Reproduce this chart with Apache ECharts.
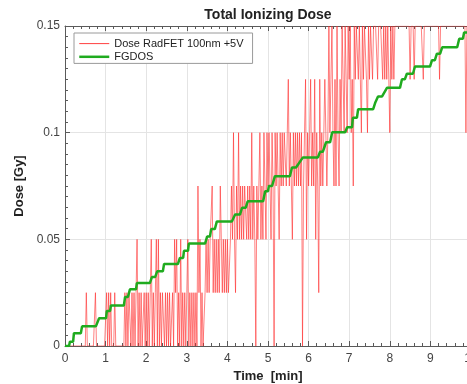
<!DOCTYPE html>
<html>
<head>
<meta charset="utf-8">
<script src="https://cdn.jsdelivr.net/npm/echarts@6/dist/echarts.min.js"></script>
<style>
  html, body { margin: 0; padding: 0; background: #fff; }
  #chart { width: 467px; height: 384px; }
</style>
</head>
<body>
<div id="chart"></div>
<script>
// RadFET readout, one sample every 0.025 min starting at t = 0 [Gy]
const radfetStep = 0.025;
const radfetDose = [
  0,0,0,0,0,0,0,0,0,0,
  0,0,0,0,0,0,0,0,0,0,
  0,.025,0,0,0,0,0,0,0,0,
  .025,0,0,0,0,0,0,0,0,0,
  0,.025,0,.025,0,.025,0,0,0,.025,
  0,0,0,0,0,0,0,0,0,.025,
  0,.025,0,.025,.025,0,.025,0,.025,0,
  .025,.05,0,.025,0,.025,0,0,.025,0,
  .025,0,.025,0,.025,.05,0,.025,0,.025,
  .05,0,.05,0,.025,0,.025,.025,0,.025,
  0,.025,0,.025,0,0,.025,0,.05,.025,
  .05,0,.025,0,.05,0,.025,0,.025,0,
  .025,.05,0,.025,0,.025,0,.025,0,.025,
  0,.075,.025,.05,0,.025,0,0,.025,.05,
  .025,.05,.025,.05,.05,.075,.025,.05,.025,.05,
  .025,.05,.025,.075,.05,.025,.05,.025,.05,.025,
  .05,.025,.025,.05,.075,.05,.1,.05,.025,.075,
  .05,.1,.05,.075,.05,.075,.05,.075,.075,.05,
  .075,.05,.075,.05,.1,.05,.075,.05,0,.075,
  .05,.075,.1,.05,.075,.05,.1,.075,.05,.1,
  .075,.1,.075,.05,.1,.075,0,.1,.075,.1,
  .075,.05,.1,.075,.1,.075,.1,.1,.075,.1,
  .125,.075,.1,.075,.05,.1,.075,.1,.075,.1,
  .075,.1,.075,.1,0,.075,.1,.125,.05,.1,
  .075,.1,.125,.075,.1,.075,.125,.05,.1,.075,
  .025,.125,.075,.1,.075,.1,.125,.1,.075,.1,
  .15,.1,.125,.15,.1,.075,.125,.075,.15,.1,
  .075,.125,.1,.15,.125,.1,.15,.125,.1,.15,
  .125,.15,.1,.125,.075,.15,.125,.15,.15,.125,
  .15,.125,.1,.15,.125,.15,.15,.125,.1,.15,
  .125,.15,.15,.125,.15,.15,.15,.15,.125,.15,
  .15,.15,.15,.125,.15,.125,.15,.125,.15,.125,
  .1,.15,.125,.15,.125,.15,.15,.15,.15,.15,
  .15,.15,.15,.15,.15,.15,.15,.15,.15,.15,
  .125,.15,.15,.15,.125,.15,.15,.15,.15,.15,
  .15,.15,.15,.125,.15,.15,.15,.15,.15,.15,
  .15,.15,.15,.15,.15,.15,.15,.15,.15,.125,
  .15,.15,.15,.15,.15,.15,.15,.15,.15,.15,
  .15,.15,.15,.15,.15,.15,.15,.15,.15,.15,
  .15,.15,.15,.15,.15,.1,.15,.15,.15,.15,
  .15
];

// FGDOS staircase: start and end of each plateau [min] and its dose [Gy]
const fgdosTime = [
  0, 0.1, 0.12, 0.2, 0.22, 0.39, 0.42, 0.76, 0.84, 1.01,
  1.03, 1.11, 1.13, 1.45, 1.48, 1.55, 1.6, 1.75, 1.77, 2.09,
  2.14, 2.22, 2.27, 2.41, 2.44, 2.78, 2.83, 2.91, 2.93, 3.03,
  3.05, 3.45, 3.5, 3.57, 3.6, 3.69, 3.74, 4.11, 4.19, 4.31,
  4.36, 4.45, 4.5, 4.88, 4.93, 5.0, 5.02, 5.1, 5.17, 5.54,
  5.59, 5.69, 5.86, 6.23, 6.28, 6.35, 6.43, 6.53, 6.58, 6.9,
  6.95, 7.07, 7.09, 7.19, 7.22, 7.59, 7.64, 7.68, 7.71, 7.81,
  7.93, 8.25, 8.3, 8.37, 8.42, 8.57, 8.62, 8.99, 9.04, 9.11,
  9.16, 9.24, 9.29, 9.66, 9.71, 9.8, 9.83, 10
];
const fgdosDose = [
  0, 0, 0.002, 0.002, 0.006, 0.006, 0.0092, 0.0092, 0.013, 0.013,
  0.0164, 0.0164, 0.019, 0.019, 0.023, 0.023, 0.0266, 0.0266, 0.0295, 0.0295,
  0.0323, 0.0323, 0.035, 0.035, 0.0384, 0.0384, 0.0413, 0.0413, 0.0446, 0.0446,
  0.048, 0.048, 0.0513, 0.0513, 0.0548, 0.0548, 0.0584, 0.0584, 0.0616, 0.0616,
  0.0648, 0.0648, 0.0678, 0.0678, 0.0725, 0.0725, 0.075, 0.075, 0.0796, 0.0796,
  0.0837, 0.0837, 0.0884, 0.0884, 0.091, 0.091, 0.0955, 0.0955, 0.1002, 0.1002,
  0.1025, 0.1025, 0.107, 0.107, 0.111, 0.111, 0.114, 0.114, 0.117, 0.117,
  0.121, 0.121, 0.125, 0.125, 0.1276, 0.1276, 0.131, 0.131, 0.134, 0.134,
  0.137, 0.137, 0.140, 0.140, 0.144, 0.144, 0.147, 0.147
];

const seriesNames = ['Dose RadFET 100nm +5V', 'FGDOS'];
const seriesColors = ['#ff2a2a', '#1fab1f'];
const seriesWidths = [0.6, 2.5];

const radfetData = radfetDose.map((v, i) => [+(i * radfetStep).toFixed(3), v]);
const fgdosData = fgdosTime.map((t, i) => [t, fgdosDose[i]]);

const axisColor = '#5a5a5a';
const labelColor = '#444';
const font = '"Liberation Sans", Arial, Helvetica, sans-serif';

const chart = echarts.init(document.getElementById('chart'), null, { renderer: 'canvas' });

const tickStyle = { color: axisColor, width: 1 };

chart.setOption({
  animation: false,
  backgroundColor: '#fff',
  textStyle: { fontFamily: font },
  title: {
    text: 'Total Ionizing Dose',
    left: 268,
    top: 8,
    textAlign: 'center',
    padding: 0,
    textStyle: { fontSize: 14, fontWeight: 'bold', color: '#222', fontFamily: font }
  },
  legend: {
    left: 74,
    top: 33,
    orient: 'vertical',
    itemWidth: 30,
    itemHeight: 14,
    itemGap: 2,
    padding: [5, 9, 1, 4],
    borderColor: '#9a9a9a',
    borderWidth: 1,
    backgroundColor: '#fff',
    // line-only keys: the marker symbol is hidden, the series stroke is kept
    itemStyle: { opacity: 0 },
    textStyle: { fontSize: 11, color: '#222', fontFamily: font },
    data: [
      { name: seriesNames[0], lineStyle: { width: 0.9, color: seriesColors[0] } },
      { name: seriesNames[1], lineStyle: { width: seriesWidths[1], color: seriesColors[1] } }
    ]
  },
  grid: { left: 65, right: -4, top: 26, bottom: 38, containLabel: false, outerBoundsMode: 'none' },
  xAxis: [
    {
      type: 'value', min: 0, max: 10, interval: 1, position: 'bottom',
      axisLine: { show: true, onZero: false, lineStyle: tickStyle },
      axisTick: { show: true, inside: true, length: 5, lineStyle: tickStyle },
      minorTick: { show: true, splitNumber: 5, length: 3, lineStyle: tickStyle },
      splitLine: { show: true, lineStyle: { color: '#e4e4e4', width: 1 } },
      axisLabel: { color: labelColor, fontSize: 12, margin: 7, fontFamily: font },
      name: 'Time  [min]', nameLocation: 'middle', nameGap: 22,
      nameTextStyle: { fontSize: 13, fontWeight: 'bold', color: '#222', fontFamily: font }
    },
    {
      type: 'value', min: 0, max: 10, interval: 1, position: 'top',
      axisLine: { show: true, onZero: false, lineStyle: tickStyle },
      axisTick: { show: true, inside: true, length: 5, lineStyle: tickStyle },
      minorTick: { show: true, splitNumber: 5, length: 3, lineStyle: tickStyle },
      splitLine: { show: false },
      axisLabel: { show: false }
    }
  ],
  yAxis: [
    {
      type: 'value', min: 0, max: 0.15, interval: 0.05, position: 'left',
      axisLine: { show: true, onZero: false, lineStyle: tickStyle },
      axisTick: { show: true, inside: true, length: 5, lineStyle: tickStyle },
      minorTick: { show: true, splitNumber: 10, length: 3, lineStyle: tickStyle },
      splitLine: { show: true, lineStyle: { color: '#e4e4e4', width: 1 } },
      axisLabel: { color: labelColor, fontSize: 12, margin: 5, fontFamily: font },
      name: 'Dose [Gy]', nameLocation: 'middle', nameGap: 32,
      nameTextStyle: { fontSize: 13, fontWeight: 'bold', color: '#222', fontFamily: font }
    }
  ],
  series: [
    {
      name: seriesNames[0], type: 'line', data: radfetData,
      symbol: 'none', z: 2,
      lineStyle: { color: seriesColors[0], width: seriesWidths[0] },
      itemStyle: { color: seriesColors[0] }
    },
    {
      name: seriesNames[1], type: 'line', data: fgdosData,
      symbol: 'none', z: 3,
      lineStyle: { color: seriesColors[1], width: seriesWidths[1] },
      itemStyle: { color: seriesColors[1] }
    }
  ]
});
</script>
</body>
</html>
